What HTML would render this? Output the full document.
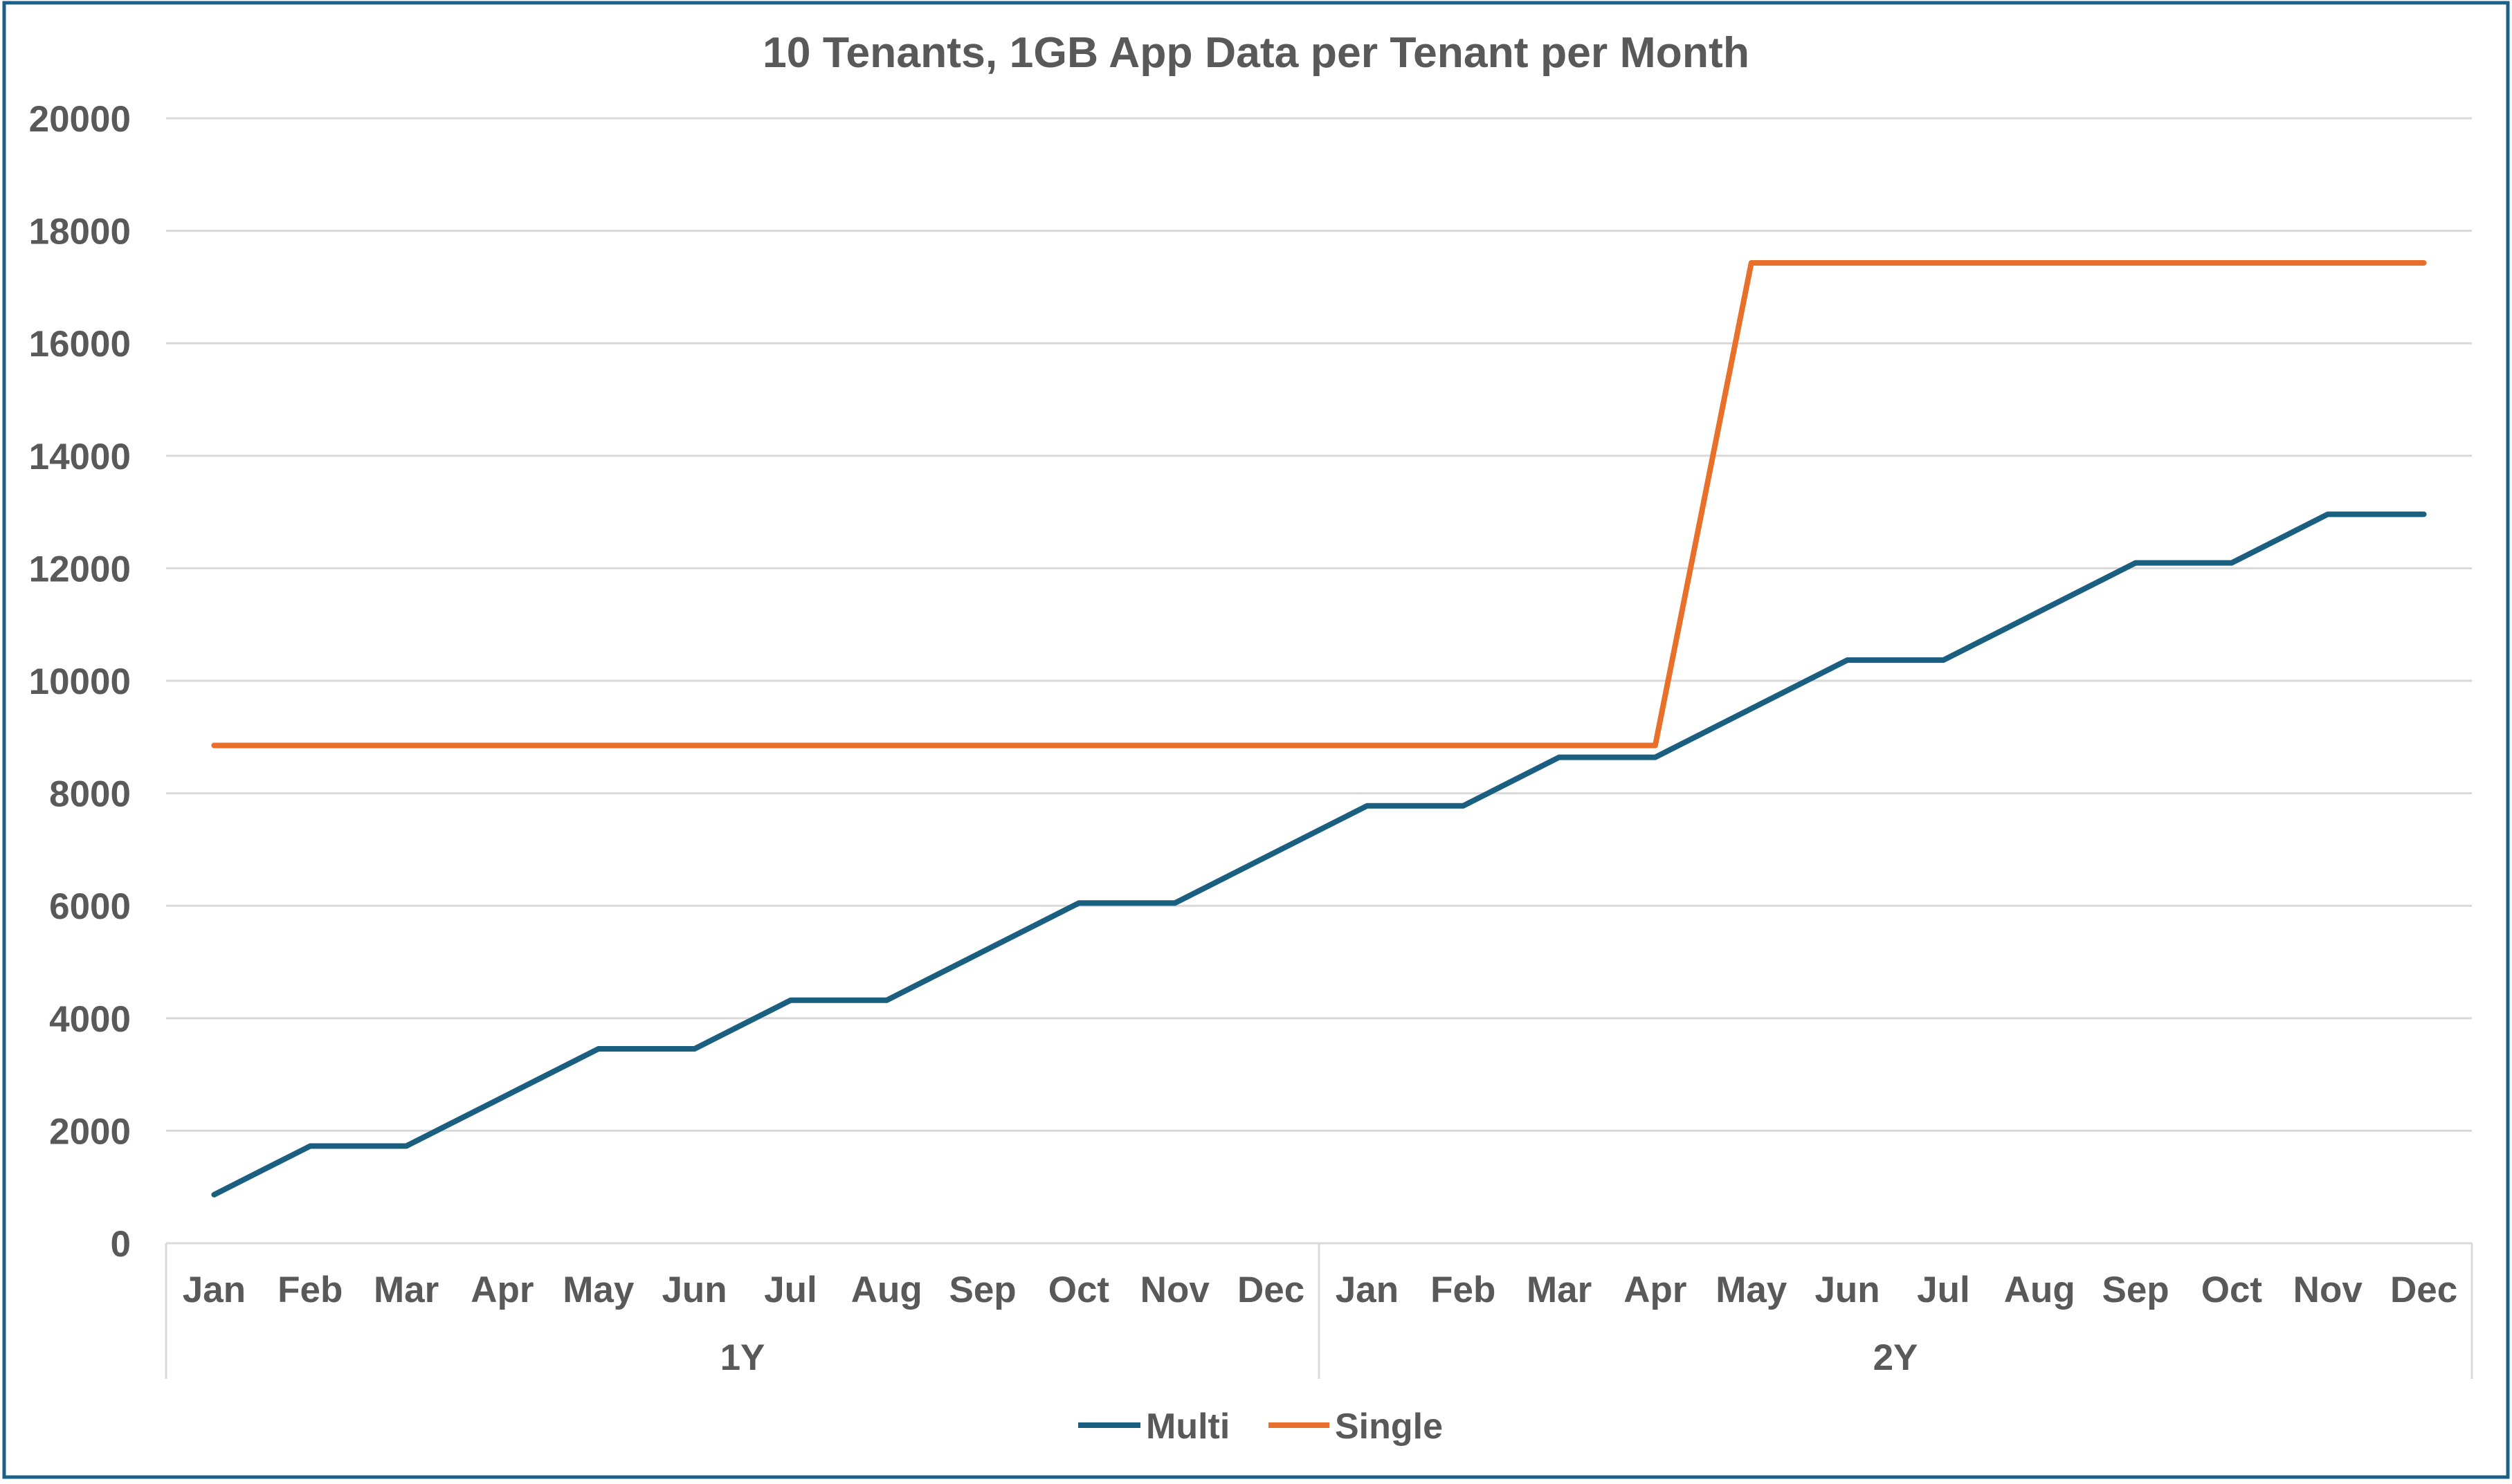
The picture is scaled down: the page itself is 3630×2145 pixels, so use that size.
<!DOCTYPE html>
<html><head><meta charset="utf-8"><style>
html,body{margin:0;padding:0;background:#fff}
svg{display:block}
text{font-family:"Liberation Sans",sans-serif;font-weight:bold;fill:#595959}
</style></head><body>
<svg id="chart" width="3630" height="2145" viewBox="0 0 3630 2145">
<rect x="6" y="4" width="3618" height="2131" fill="#fff" stroke="#1c6085" stroke-width="5"/>
<text x="1815" y="97" text-anchor="middle" font-size="62" textLength="1426" lengthAdjust="spacingAndGlyphs">10 Tenants, 1GB App Data per Tenant per Month</text>
<g id="grid"></g><g id="yl"></g><g id="xl"></g><g id="series"></g>
<g>
<line x1="1558" y1="2060" x2="1648" y2="2060" stroke="#1a5e80" stroke-width="8"/>
<text x="1656" y="2079" font-size="52">Multi</text>
<line x1="1833" y1="2060" x2="1921" y2="2060" stroke="#e8702a" stroke-width="8"/>
<text x="1929" y="2079" font-size="52">Single</text>
</g>
</svg>
<script>
const months = ["Jan","Feb","Mar","Apr","May","Jun","Jul","Aug","Sep","Oct","Nov","Dec","Jan","Feb","Mar","Apr","May","Jun","Jul","Aug","Sep","Oct","Nov","Dec"];
const years = ["1Y","2Y"];
const multi = [864,1728,1728,2592,3456,3456,4320,4320,5184,6048,6048,6912,7776,7776,8640,8640,9504,10368,10368,11232,12096,12096,12960,12960];
const single = [8850,8850,8850,8850,8850,8850,8850,8850,8850,8850,8850,8850,8850,8850,8850,8850,17430,17430,17430,17430,17430,17430,17430,17430];
const yTicks = [0,2000,4000,6000,8000,10000,12000,14000,16000,18000,20000];
const NS="http://www.w3.org/2000/svg";
const L=240,R=3572,T=171,B=1797,yMax=20000;
const bw=(R-L)/months.length;
const xs=i=>L+bw*(i+0.5);
const ys=v=>B-(v/yMax)*(B-T);
function mk(tag,attrs,parent){const e=document.createElementNS(NS,tag);for(const k in attrs)e.setAttribute(k,attrs[k]);parent.appendChild(e);return e;}
const grid=document.getElementById('grid'),yl=document.getElementById('yl'),xl=document.getElementById('xl'),ser=document.getElementById('series');
yTicks.forEach(t=>{
 const l=mk('line',{x1:L,x2:R,y1:ys(t),y2:ys(t),stroke:'#d9d9d9','stroke-width':3},grid);
 
 
 const tx=mk('text',{x:189,y:ys(t)+19,'text-anchor':'end','font-size':53},yl);
 tx.textContent=t;
 
 
});
[0,12,24].forEach(i=>{
 const l=mk('line',{x1:L+bw*i,x2:L+bw*i,y1:B,y2:1993,stroke:'#d9d9d9','stroke-width':3},xl);
 
 
});
months.forEach((m,i)=>{
 const tx=mk('text',{x:xs(i),y:1882,'text-anchor':'middle','font-size':53},xl);
 tx.textContent=m;
 
 
});
years.forEach((y,j)=>{
 const tx=mk('text',{x:L+bw*(12*j+6),y:1980,'text-anchor':'middle','font-size':53},xl);
 tx.textContent=y;
 
 
});
function line(data,color,name){
 const p=mk('polyline',{points:data.map((v,i)=>xs(i)+','+ys(v)).join(' '),fill:'none',stroke:color,'stroke-width':8,'stroke-linejoin':'round','stroke-linecap':'round'},ser);
 
 
}
line(single,'#e8702a','series-single');
line(multi,'#1a5e80','series-multi');
</script>
</body></html>
